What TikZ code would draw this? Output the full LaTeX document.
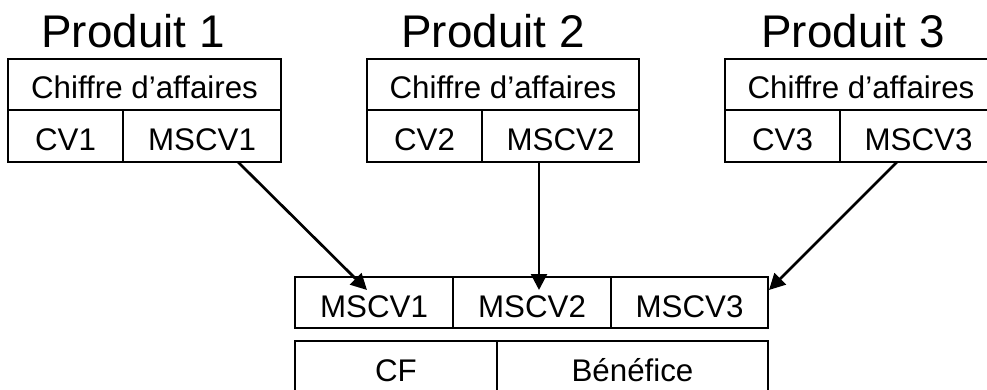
\documentclass[tikz,border=0pt]{standalone}
\usepackage{fontspec}
\setmainfont{Liberation Sans}
\usetikzlibrary{arrows.meta}

\tikzset{
  cell/.style={draw, line width=1.7pt, inner sep=0pt, outer sep=0pt,
    anchor=north west, text height=29pt, text depth=0pt,
    font=\fontsize{31.3}{36}\selectfont},
  title/.style={anchor=base, inner sep=0pt, font=\fontsize{45.8}{52}\selectfont},
  link/.style={line width=2.7pt, -{Triangle[length=16pt,width=16pt]}}
}

\begin{document}
\begin{tikzpicture}[x=1pt, y=-1pt]
  \useasboundingbox (0,0) rectangle (987,390);
  \clip (0,0) rectangle (987,390);

  % product titles
  \node[title] (t1) at (133,48) {Produit 1};
  \node[title] (t2) at (493,48) {Produit 2};
  \node[title] (t3) at (853,48) {Produit 3};

  % product 1
  \node[cell, minimum width=273pt, minimum height=51pt] (ca1) at (8,59) {Chiffre d’affaires};
  \node[cell, minimum width=115pt, minimum height=52pt] (cv1) at (8,110) {CV1};
  \node[cell, minimum width=158pt, minimum height=52pt] (ms1) at (123,110) {MSCV1};

  % product 2
  \node[cell, minimum width=272pt, minimum height=51pt] (ca2) at (367,59) {Chiffre d’affaires};
  \node[cell, minimum width=115pt, minimum height=52pt] (cv2) at (367,110) {CV2};
  \node[cell, minimum width=157pt, minimum height=52pt] (ms2) at (482,110) {MSCV2};

  % product 3
  \node[cell, minimum width=272pt, minimum height=51pt] (ca3) at (725,59) {Chiffre d’affaires};
  \node[cell, minimum width=115pt, minimum height=52pt] (cv3) at (725,110) {CV3};
  \node[cell, minimum width=157pt, minimum height=52pt] (ms3) at (840,110) {MSCV3};

  % summary table
  \node[cell, minimum width=158pt, minimum height=51pt] (b1) at (295,277) {MSCV1};
  \node[cell, minimum width=158pt, minimum height=51pt] (b2) at (453,277) {MSCV2};
  \node[cell, minimum width=157pt, minimum height=51pt] (b3) at (611,277) {MSCV3};
  \node[cell, minimum width=202pt, minimum height=51pt] (cf) at (295,341) {CF};
  \node[cell, minimum width=271pt, minimum height=51pt] (ben) at (497,341) {Bénéfice};

  % margins flowing into the summary
  \draw[link] ([xshift=36pt]ms1.south) -- ([xshift=-7pt,yshift=-13pt]b1.north);
  \draw[link] ([xshift=-21.5pt]ms2.south) -- ([xshift=7pt,yshift=-13pt]b2.north);
  \draw[link] ([xshift=-21.5pt]ms3.south) -- ([xshift=1pt,yshift=-13pt]b3.north east);
\end{tikzpicture}
\end{document}
